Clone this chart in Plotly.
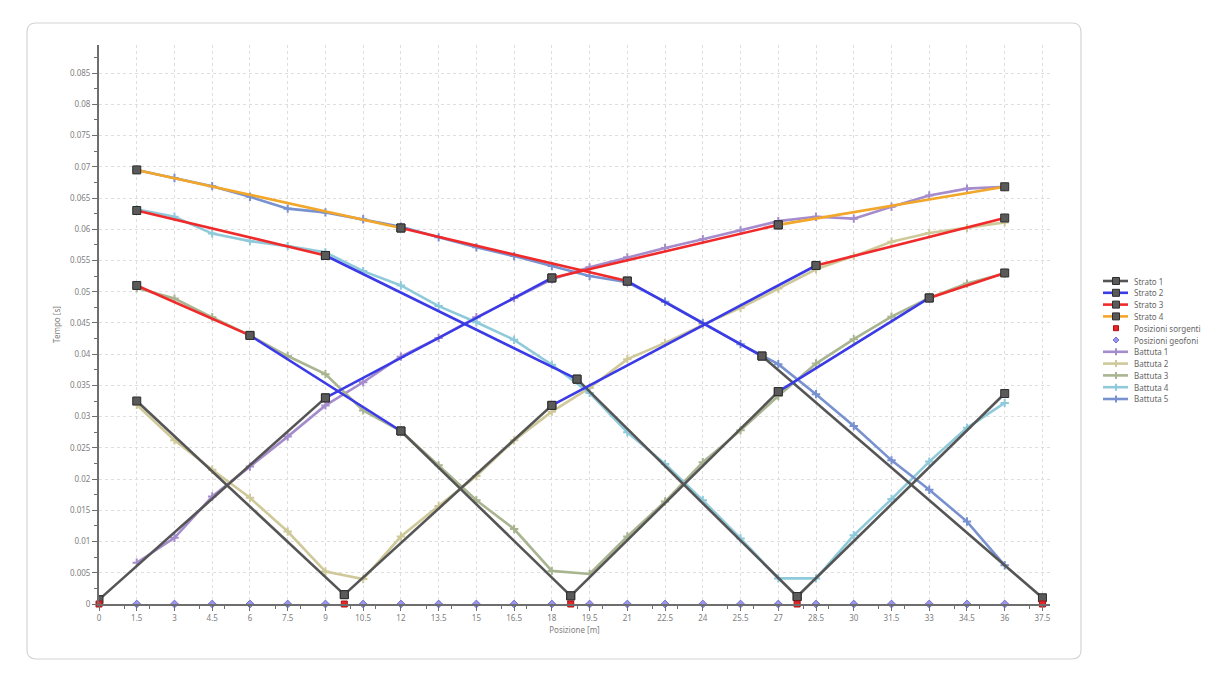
import plotly.graph_objects as go

# ---------------- data ----------------
geofoni_x = [1.5, 3, 4.5, 6, 7.5, 9, 10.5, 12, 13.5, 15, 16.5, 18, 19.5, 21,
             22.5, 24, 25.5, 27, 28.5, 30, 31.5, 33, 34.5, 36]
geofoni_y = [0] * len(geofoni_x)

sorgenti_x = [0, 9.75, 18.75, 27.75, 37.5]
sorgenti_y = [0, 0, 0, 0, 0]

battuta1_t = [0.0066, 0.0106, 0.0172, 0.0220, 0.0268, 0.0318, 0.0355, 0.0396, 0.0426, 0.0459, 0.0490, 0.0520,
              0.0539, 0.0555, 0.0570, 0.0584, 0.0598, 0.0613, 0.0620, 0.0617, 0.0636, 0.0654, 0.0665, 0.0668]
battuta2_t = [0.0319, 0.0262, 0.0215, 0.0170, 0.0116, 0.0052, 0.0040, 0.0108, 0.0157, 0.0205, 0.0262, 0.0308,
              0.0346, 0.0392, 0.0418, 0.0447, 0.0474, 0.0505, 0.0536, 0.0557, 0.0580, 0.0594, 0.0602, 0.0611]
battuta3_t = [0.0506, 0.0489, 0.0459, 0.0430, 0.0397, 0.0368, 0.0310, 0.0277, 0.0222, 0.0166, 0.0120, 0.0053,
              0.0048, 0.0108, 0.0164, 0.0227, 0.0278, 0.0333, 0.0385, 0.0424, 0.0460, 0.0490, 0.0513, 0.0529]
battuta4_t = [0.0632, 0.0620, 0.0593, 0.0581, 0.0573, 0.0563, 0.0533, 0.0510, 0.0477, 0.0451, 0.0423, 0.0383,
              0.0338, 0.0275, 0.0224, 0.0166, 0.0105, 0.0041, 0.0041, 0.0110, 0.0168, 0.0228, 0.0282, 0.0322]
battuta5_t = [0.0695, 0.0682, 0.0669, 0.0652, 0.0633, 0.0627, 0.0616, 0.0604, 0.0587, 0.0571, 0.0557, 0.0541,
              0.0525, 0.0515, 0.0484, 0.0450, 0.0416, 0.0384, 0.0336, 0.0285, 0.0230, 0.0183, 0.0132, 0.0062]

# model segments (None separates segments)
strato1_x = [0, 9, None, 1.5, 9.75, None, 9.75, 18, None, 12, 18.75, None,
             18.75, 27, None, 19, 27.75, None, 27.75, 36, None, 26.35, 37.5]
strato1_y = [0.0007, 0.0330, None, 0.0325, 0.0015, None, 0.0015, 0.0318, None, 0.0277, 0.0013, None,
             0.0013, 0.0340, None, 0.0360, 0.0012, None, 0.0012, 0.0337, None, 0.0397, 0.0010]
strato2_x = [9, 18, None, 18, 28.5, None, 12, 6, None, 27, 33, None, 19, 9, None, 26.35, 21]
strato2_y = [0.0330, 0.0522, None, 0.0318, 0.0542, None, 0.0277, 0.0430, None, 0.0340, 0.0490, None,
             0.0360, 0.0558, None, 0.0397, 0.0517]
strato3_x = [18, 27, None, 28.5, 36, None, 6, 1.5, None, 33, 36, None, 9, 1.5, None, 21, 12]
strato3_y = [0.0522, 0.0607, None, 0.0542, 0.0618, None, 0.0430, 0.0510, None, 0.0490, 0.0530, None,
             0.0558, 0.0630, None, 0.0517, 0.0602]
strato4_x = [27, 36, None, 12, 1.5]
strato4_y = [0.0607, 0.0668, None, 0.0602, 0.0695]

x_ticks = [0, 1.5, 3, 4.5, 6, 7.5, 9, 10.5, 12, 13.5, 15, 16.5, 18, 19.5, 21, 22.5, 24,
           25.5, 27, 28.5, 30, 31.5, 33, 34.5, 36, 37.5]
x_tick_labels = ["0", "1.5", "3", "4.5", "6", "7.5", "9", "10.5", "12", "13.5", "15", "16.5", "18",
                 "19.5", "21", "22.5", "24", "25.5", "27", "28.5", "30", "31.5", "33", "34.5", "36", "37.5"]
y_ticks = [0, 0.005, 0.01, 0.015, 0.02, 0.025, 0.03, 0.035, 0.04, 0.045, 0.05, 0.055,
           0.06, 0.065, 0.07, 0.075, 0.08, 0.085]
y_tick_labels = ["0", "0.005", "0.01", "0.015", "0.02", "0.025", "0.03", "0.035", "0.04", "0.045",
                 "0.05", "0.055", "0.06", "0.065", "0.07", "0.075", "0.08", "0.085"]

legend_names = ["Strato 1", "Strato 2", "Strato 3", "Strato 4", "Posizioni sorgenti", "Posizioni geofoni",
                "Battuta 1", "Battuta 2", "Battuta 3", "Battuta 4", "Battuta 5"]

# ---------------- styles ----------------
FONT = "Noto Sans"
C_STRATO = {"Strato 1": "#555555", "Strato 2": "#3a3ae6", "Strato 3": "#f02a2a", "Strato 4": "#f2a72a"}
C_BATT = {"Battuta 1": "#a58ccc", "Battuta 2": "#cfc99a", "Battuta 3": "#a9b591",
          "Battuta 4": "#8fcadb", "Battuta 5": "#7891cf"}
C_SORG = "#e8262a"
C_GEOF = "#9a96ec"

# page offset (browser body margin)
OFF = 8
W, H = 1220 - 2 * OFF, 677 - 2 * OFF
L, R, T, B = 99 - OFF, 1050 - OFF, 45 - OFF, 604 - OFF


def px(x):  # reference-screenshot pixel -> paper x
    return (x - OFF - L) / (R - L)


def py(y):
    return (B - (y - OFF)) / (B - T)


fig = go.Figure()

for name, t in zip(legend_names[6:], [battuta1_t, battuta2_t, battuta3_t, battuta4_t, battuta5_t]):
    col = C_BATT[name]
    fig.add_trace(go.Scatter(
        x=geofoni_x, y=t, name=name, mode="lines+markers", showlegend=False,
        line=dict(color=col, width=2.6),
        marker=dict(symbol="cross-thin", size=6, line=dict(color=col, width=2), color=col),
    ))

for name, xs, ys in zip(legend_names[:4], [strato1_x, strato2_x, strato3_x, strato4_x],
                        [strato1_y, strato2_y, strato3_y, strato4_y]):
    fig.add_trace(go.Scatter(
        x=xs, y=ys, name=name, mode="lines+markers", showlegend=False,
        line=dict(color=C_STRATO[name], width=2.6),
        marker=dict(symbol="square", size=8, color="#5a5a5a", line=dict(color="#2e2e2e", width=1)),
        connectgaps=False,
    ))

fig.add_trace(go.Scatter(
    x=sorgenti_x, y=sorgenti_y, name=legend_names[4], mode="markers", showlegend=False,
    marker=dict(symbol="square", size=6, color=C_SORG, line=dict(color="#b01010", width=1)),
    cliponaxis=False,
))
fig.add_trace(go.Scatter(
    x=geofoni_x, y=geofoni_y, name=legend_names[5], mode="markers", showlegend=False,
    marker=dict(symbol="diamond", size=6, color=C_GEOF, line=dict(color="#7470d8", width=1)),
    cliponaxis=False,
))

# ---------------- frame ----------------
def rounded_rect(x0, y0, x1, y1, r):
    rx = r / (R - L)
    ry = r / (B - T)
    X0, X1 = px(x0), px(x1)
    Y0, Y1 = py(y0), py(y1)
    return (f"M {X0 + rx} {Y0} L {X1 - rx} {Y0} Q {X1} {Y0} {X1} {Y0 - ry} "
            f"L {X1} {Y1 + ry} Q {X1} {Y1} {X1 - rx} {Y1} "
            f"L {X0 + rx} {Y1} Q {X0} {Y1} {X0} {Y1 + ry} "
            f"L {X0} {Y0 - ry} Q {X0} {Y0} {X0 + rx} {Y0} Z")


shapes = [
    dict(type="path", xref="paper", yref="paper", path=rounded_rect(27, 23, 1081, 659, 9),
         line=dict(color="#d4d4d4", width=1.2), fillcolor="rgba(0,0,0,0)", layer="below"),
]
annotations = []

# ---------------- compact legend ----------------
LX0, LX1, LXM, LXT = 1103, 1128, 1116, 1132
LY0, LDY = 281, 11.8
for i, name in enumerate(legend_names):
    yc = LY0 + i * LDY
    if name in C_STRATO:
        shapes.append(dict(type="line", xref="paper", yref="paper", x0=px(LX0), x1=px(LX1),
                           y0=py(yc), y1=py(yc), line=dict(color=C_STRATO[name], width=2.6)))
        shapes.append(dict(type="rect", xref="paper", yref="paper", x0=px(LXM - 3.5), x1=px(LXM + 3.5),
                           y0=py(yc + 3.5), y1=py(yc - 3.5), fillcolor="#5a5a5a",
                           line=dict(color="#2e2e2e", width=1)))
    elif name in C_BATT:
        col = C_BATT[name]
        shapes.append(dict(type="line", xref="paper", yref="paper", x0=px(LX0), x1=px(LX1),
                           y0=py(yc), y1=py(yc), line=dict(color=col, width=2.6)))
        shapes.append(dict(type="line", xref="paper", yref="paper", x0=px(LXM), x1=px(LXM),
                           y0=py(yc - 3.5), y1=py(yc + 3.5), line=dict(color=col, width=2)))
    elif name == "Posizioni sorgenti":
        shapes.append(dict(type="rect", xref="paper", yref="paper", x0=px(LXM - 2.5), x1=px(LXM + 2.5),
                           y0=py(yc + 2.5), y1=py(yc - 2.5), fillcolor=C_SORG,
                           line=dict(color="#b01010", width=1)))
    else:
        shapes.append(dict(type="path", xref="paper", yref="paper",
                           path=(f"M {px(LXM)} {py(yc - 3)} L {px(LXM + 3)} {py(yc)} "
                                 f"L {px(LXM)} {py(yc + 3)} L {px(LXM - 3)} {py(yc)} Z"),
                           fillcolor=C_GEOF, line=dict(color="#7470d8", width=1)))
    annotations.append(dict(xref="paper", yref="paper", x=px(LXT), y=py(yc), text=name,
                            showarrow=False, xanchor="left", yanchor="middle",
                            font=dict(family=FONT, size=8, color="#666666")))

axis_font = dict(family=FONT, size=8, color="#808080")
fig.update_layout(
    width=W, height=H,
    margin=dict(l=L, r=W - R, t=T, b=H - B, pad=0),
    paper_bgcolor="white", plot_bgcolor="white",
    font=dict(family=FONT, size=8, color="#666666"),
    showlegend=False,
    shapes=shapes, annotations=annotations,
    xaxis=dict(
        range=[0, 37.8], tickmode="array", tickvals=x_ticks, ticktext=x_tick_labels,
        showgrid=True, gridcolor="#dedede", griddash="dot", gridwidth=1,
        showline=True, linecolor="#6e6e6e", linewidth=2,
        ticks="outside", ticklen=5, tickcolor="#6e6e6e", tickwidth=1,
        tickfont=axis_font, zeroline=False,
        minor=dict(dtick=1, tick0=0, ticks="outside", ticklen=3, tickcolor="#6e6e6e", showgrid=False),
        title=dict(text="Posizione [m]", font=axis_font, standoff=6),
    ),
    yaxis=dict(
        range=[0, 0.0895], tickmode="array", tickvals=y_ticks, ticktext=y_tick_labels,
        showgrid=True, gridcolor="#dedede", griddash="dot", gridwidth=1,
        showline=True, linecolor="#6e6e6e", linewidth=2,
        ticks="outside", ticklen=5, tickcolor="#6e6e6e", tickwidth=1,
        tickfont=axis_font, zeroline=False,
        minor=dict(dtick=0.0025, tick0=0, ticks="outside", ticklen=3, tickcolor="#6e6e6e", showgrid=False),
        title=dict(text="Tempo [s]", font=axis_font, standoff=8),
    ),
)

fig.write_html("out.html")
